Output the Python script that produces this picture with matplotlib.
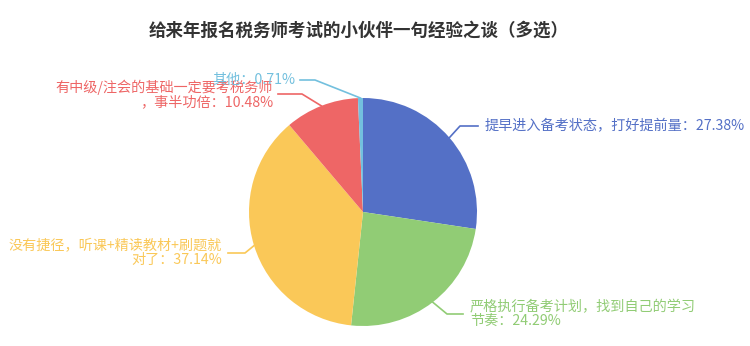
import numpy as np
import matplotlib.pyplot as plt

plt.rcParams['font.family'] = ['Noto Sans CJK SC', 'DejaVu Sans']

title = '给来年报名税务师考试的小伙伴一句经验之谈（多选）'
labels = ['提早进入备考状态，打好提前量',
          '严格执行备考计划，找到自己的学习\n节奏',
          '没有捷径，听课+精读教材+刷题就\n对了',
          '有中级/注会的基础一定要考税务师\n，事半功倍',
          '其他']
values = [27.38, 24.29, 37.14, 10.48, 0.71]
colors = ['#5470c6', '#91cc75', '#fac858', '#ee6666', '#73c0de']

W, H = 750, 346
fig = plt.figure(figsize=(W / 100, H / 100), dpi=100)
ax = fig.add_axes([0, 0, 1, 1])

cx, cy, r = 363, H - 212, 114
wedges, _ = ax.pie(values, colors=colors, startangle=90, counterclock=False,
                   center=(cx, cy), radius=r, frame=True,
                   wedgeprops=dict(linewidth=0))
ax.set_xlim(0, W)
ax.set_ylim(0, H)
ax.axis('off')

# label layout: (elbow x, elbow y, end x, text x, align) in pixel coords (y from top)
layout = [(460, 126, 478, 485, 'left'),
          (447, 314, 463, 470, 'left'),
          (245, 253, 228, 222, 'right'),
          (302, 94, 278, 273, 'right'),
          (315, 80, 300, 295, 'right')]

for w, lab, v, c, (ex, ey, hx, tx, al) in zip(wedges, labels, values, colors, layout):
    mid = np.deg2rad((w.theta1 + w.theta2) / 2)
    px, py = cx + r * np.cos(mid), cy + r * np.sin(mid)
    ax.plot([px, ex, hx], [py, H - ey, H - ey], color=c, lw=1.2)
    ax.text(tx, H - ey, f'{lab}：{v:.2f}%', color=c, fontsize=10.2,
            ha=al, va='center', multialignment=al, linespacing=1.0)

ax.text(359, H - 31, title, ha='center', va='center', fontsize=12.6,
        fontweight='bold', color='#333333')

fig.savefig('out.png', dpi=100, facecolor='white')
